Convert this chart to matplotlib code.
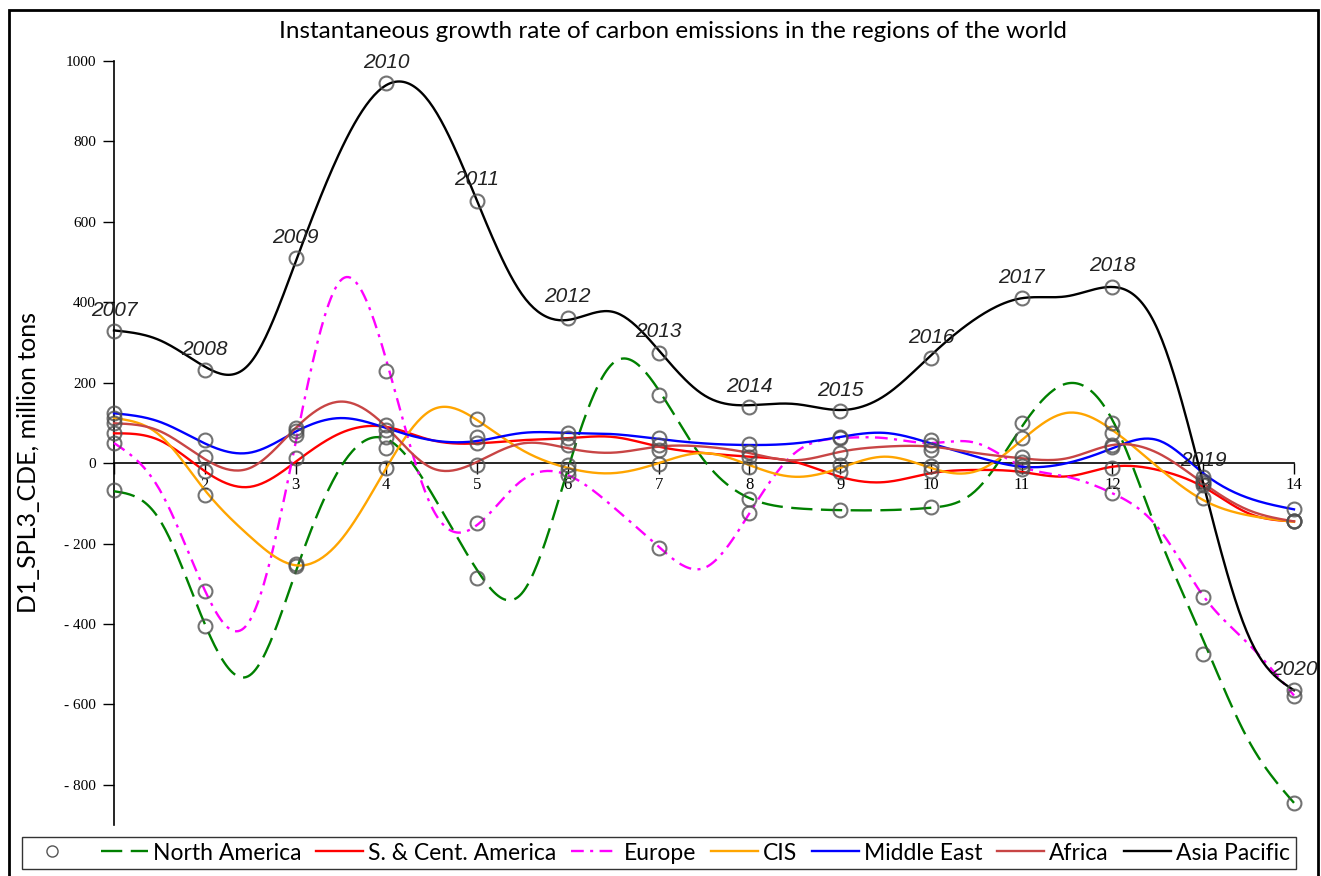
import numpy as np
import matplotlib
matplotlib.use("Agg")
from matplotlib import pyplot as plt
from matplotlib.lines import Line2D
from matplotlib.patches import Rectangle

# year index on the x axis
steps = np.arange(1, 15)
years = ['2007', '2008', '2009', '2010', '2011', '2012', '2013',
         '2014', '2015', '2016', '2017', '2018', '2019', '2020']

# discrete growth values (circles), million tons
asia_pts = [328, 231, 510, 945, 652, 361, 274, 139, 129, 261, 410, 438, -45, -565]
na_pts = [-67, -405, -256, 37, -285, -5, 169, -90, -117, -109, 100, 99, -475, -845]
europe_pts = [49, -318, 70, 230, -150, -30, -212, -125, 62, 57, -15, -75, -333, -578]
cis_pts = [111, -80, -250, -12, 109, -17, -2, -9, -5, -7, 62, 74, -87, -143]
me_pts = [124, 57, 80, 94, 65, 74, 62, 48, 65, 45, 3, 40, -35, -115]
africa_pts = [99, 15, 88, 65, -5, 45, 33, 28, 25, 32, 16, 45, -50, -143]
sca_pts = [74, -20, 12, 82, 50, 62, 45, 16, -22, -20, -8, -12, -55, -143]

# instantaneous rate (spline derivative) read at half steps 1, 1.5, ... 14
half = np.arange(1, 14.01, 0.5)
asia_rate = [330, 306, 240, 249, 500, 779, 940, 890, 652, 418, 356, 376, 281, 169,
             144, 147, 132, 169, 268, 360, 410, 415, 438, 331, -50, -430, -565]
na_rate = [-70, -140, -400, -527, -272, -9, 60, -75, -266, -322, -15, 249, 182, 7,
           -87, -112, -117, -117, -111, -67, 90, 198, 107, -175, -440, -690, -845]
europe_rate = [50, -65, -316, -390, 50, 455, 256, -109, -154, -42, -30, -109, -208, -261,
               -125, 25, 62, 62, 50, 50, -8, -34, -75, -160, -330, -450, -578]
cis_rate = [112, 70, -67, -183, -254, -191, -12, 132, 107, 32, -12, -25, 0, 25,
            -5, -34, -12, 16, -12, -20, 57, 125, 82, -10, -92, -130, -146]
me_rate = [124, 103, 49, 26, 78, 112, 87, 57, 55, 75, 75, 72, 60, 49,
           45, 49, 65, 75, 49, 16, -9, 0, 37, 57, -25, -87, -115]
africa_rate = [99, 80, 10, -12, 87, 153, 90, -12, 3, 49, 37, 26, 41, 41,
               25, 7, 28, 41, 41, 25, 12, 12, 45, 25, -50, -117, -145]
sca_rate = [74, 57, -20, -59, 3, 75, 90, 57, 49, 57, 62, 65, 41, 25,
            16, 3, -34, -47, -25, -17, -22, -33, -9, -17, -59, -125, -145]


def natural_spline(xk, yk, n=600):
    xk = np.asarray(xk, float)
    yk = np.asarray(yk, float)
    k = len(xk)
    h = np.diff(xk)
    A = np.zeros((k, k))
    b = np.zeros(k)
    A[0, 0] = 1
    A[-1, -1] = 1
    for i in range(1, k - 1):
        A[i, i - 1] = h[i - 1]
        A[i, i] = 2 * (h[i - 1] + h[i])
        A[i, i + 1] = h[i]
        b[i] = 6 * ((yk[i + 1] - yk[i]) / h[i] - (yk[i] - yk[i - 1]) / h[i - 1])
    M = np.linalg.solve(A, b)
    xs = np.linspace(xk[0], xk[-1], n)
    idx = np.clip(np.searchsorted(xk, xs) - 1, 0, k - 2)
    x0, x1 = xk[idx], xk[idx + 1]
    hh = x1 - x0
    t0 = x1 - xs
    t1 = xs - x0
    ys = (M[idx] * t0**3 + M[idx + 1] * t1**3) / (6 * hh) \
        + (yk[idx] / hh - M[idx] * hh / 6) * t0 \
        + (yk[idx + 1] / hh - M[idx + 1] * hh / 6) * t1
    return xs, ys


series = [
    ('North America', na_pts, na_rate, 'green', (0, (9.0, 3.6))),
    ('S. & Cent. America', sca_pts, sca_rate, 'red', '-'),
    ('Europe', europe_pts, europe_rate, 'magenta', (0, (5.4, 2.7, 1.3, 2.7))),
    ('CIS', cis_pts, cis_rate, 'orange', '-'),
    ('Middle East', me_pts, me_rate, 'blue', '-'),
    ('Africa', africa_pts, africa_rate, '#c84545', '-'),
    ('Asia Pacific', asia_pts, asia_rate, 'black', '-'),
]

W, H = 1321, 876
fig = plt.figure(figsize=(W / 100, H / 100), dpi=100)
ax = fig.add_axes([114 / W, (H - 825) / H, 1180 / W, 764 / H])
ax.set_xlim(1, 14)
ax.set_ylim(-900, 1000)

handles = [Line2D([], [], marker='o', ls='none', mfc='none', mec='#555555',
                  ms=8, mew=1.0, label=' ')]
for name, pts, rate, col, ls in series:
    xs, ys = natural_spline(half, rate)
    ax.plot(xs, ys, color=col, lw=1.7, ls=ls, clip_on=False, zorder=3)
    handles.append(Line2D([], [], color=col, lw=1.7, ls=ls, label=name))

for name, pts, rate, col, ls in series:
    ax.plot(steps, pts, 'o', ms=10, mfc='none', mec='#505050', mew=1.5,
            alpha=0.8, clip_on=False, zorder=4)

for x, y, yr in zip(steps, asia_pts, years):
    ax.annotate(yr, (x, y), xytext=(0, 21), textcoords='offset pixels',
                ha='center', va='center', fontsize=15, style='italic',
                family='Liberation Sans', color='#222222')

# axes styling: y axis at x=1, x axis through zero
ax.spines['right'].set_visible(False)
ax.spines['top'].set_visible(False)
ax.spines['left'].set_position(('data', 1))
ax.spines['bottom'].set_position(('data', 0))
ax.spines['bottom'].set_bounds(1, 14)
for s in ('left', 'bottom'):
    ax.spines[s].set_linewidth(1.2)

yt = np.arange(-800, 1001, 200)
ax.set_yticks(yt)
ax.set_yticklabels([('- %d' % -v) if v < 0 else str(v) for v in yt],
                   family='Liberation Serif', fontsize=11)
ax.set_xticks(steps)
ax.set_xticklabels([''] + [str(s) for s in steps[1:]], family='Liberation Serif', fontsize=12)
ax.tick_params(axis='y', direction='out', length=8, width=1, pad=5)
ax.tick_params(axis='x', direction='out', length=8, width=1, pad=2)

ax.set_ylabel('D1_SPL3_CDE, million tons', family='Lato', fontsize=18)
ax.yaxis.set_label_coords(-0.063, 0.475)
fig.text(673 / W, 1 - 31 / H, 'Instantaneous growth rate of carbon emissions in the regions of the world',
         ha='center', va='center', family='Lato', fontsize=17.5)

leg = fig.legend(handles=handles, loc='center', bbox_to_anchor=(659 / W, 1 - 853 / H),
                 ncol=8, frameon=True, fancybox=False, edgecolor='black',
                 prop={'family': 'Lato', 'size': 16.5}, handlelength=2.05,
                 handletextpad=0.22, columnspacing=0.65, borderpad=0.25)
leg.get_frame().set_linewidth(1.0)

fig.patches.append(Rectangle((9 / W, -0.01), 1309 / W, 1 - 10 / H + 0.01,
                             transform=fig.transFigure, fill=False, lw=2, ec='black'))

fig.savefig('out.png', dpi=100)
